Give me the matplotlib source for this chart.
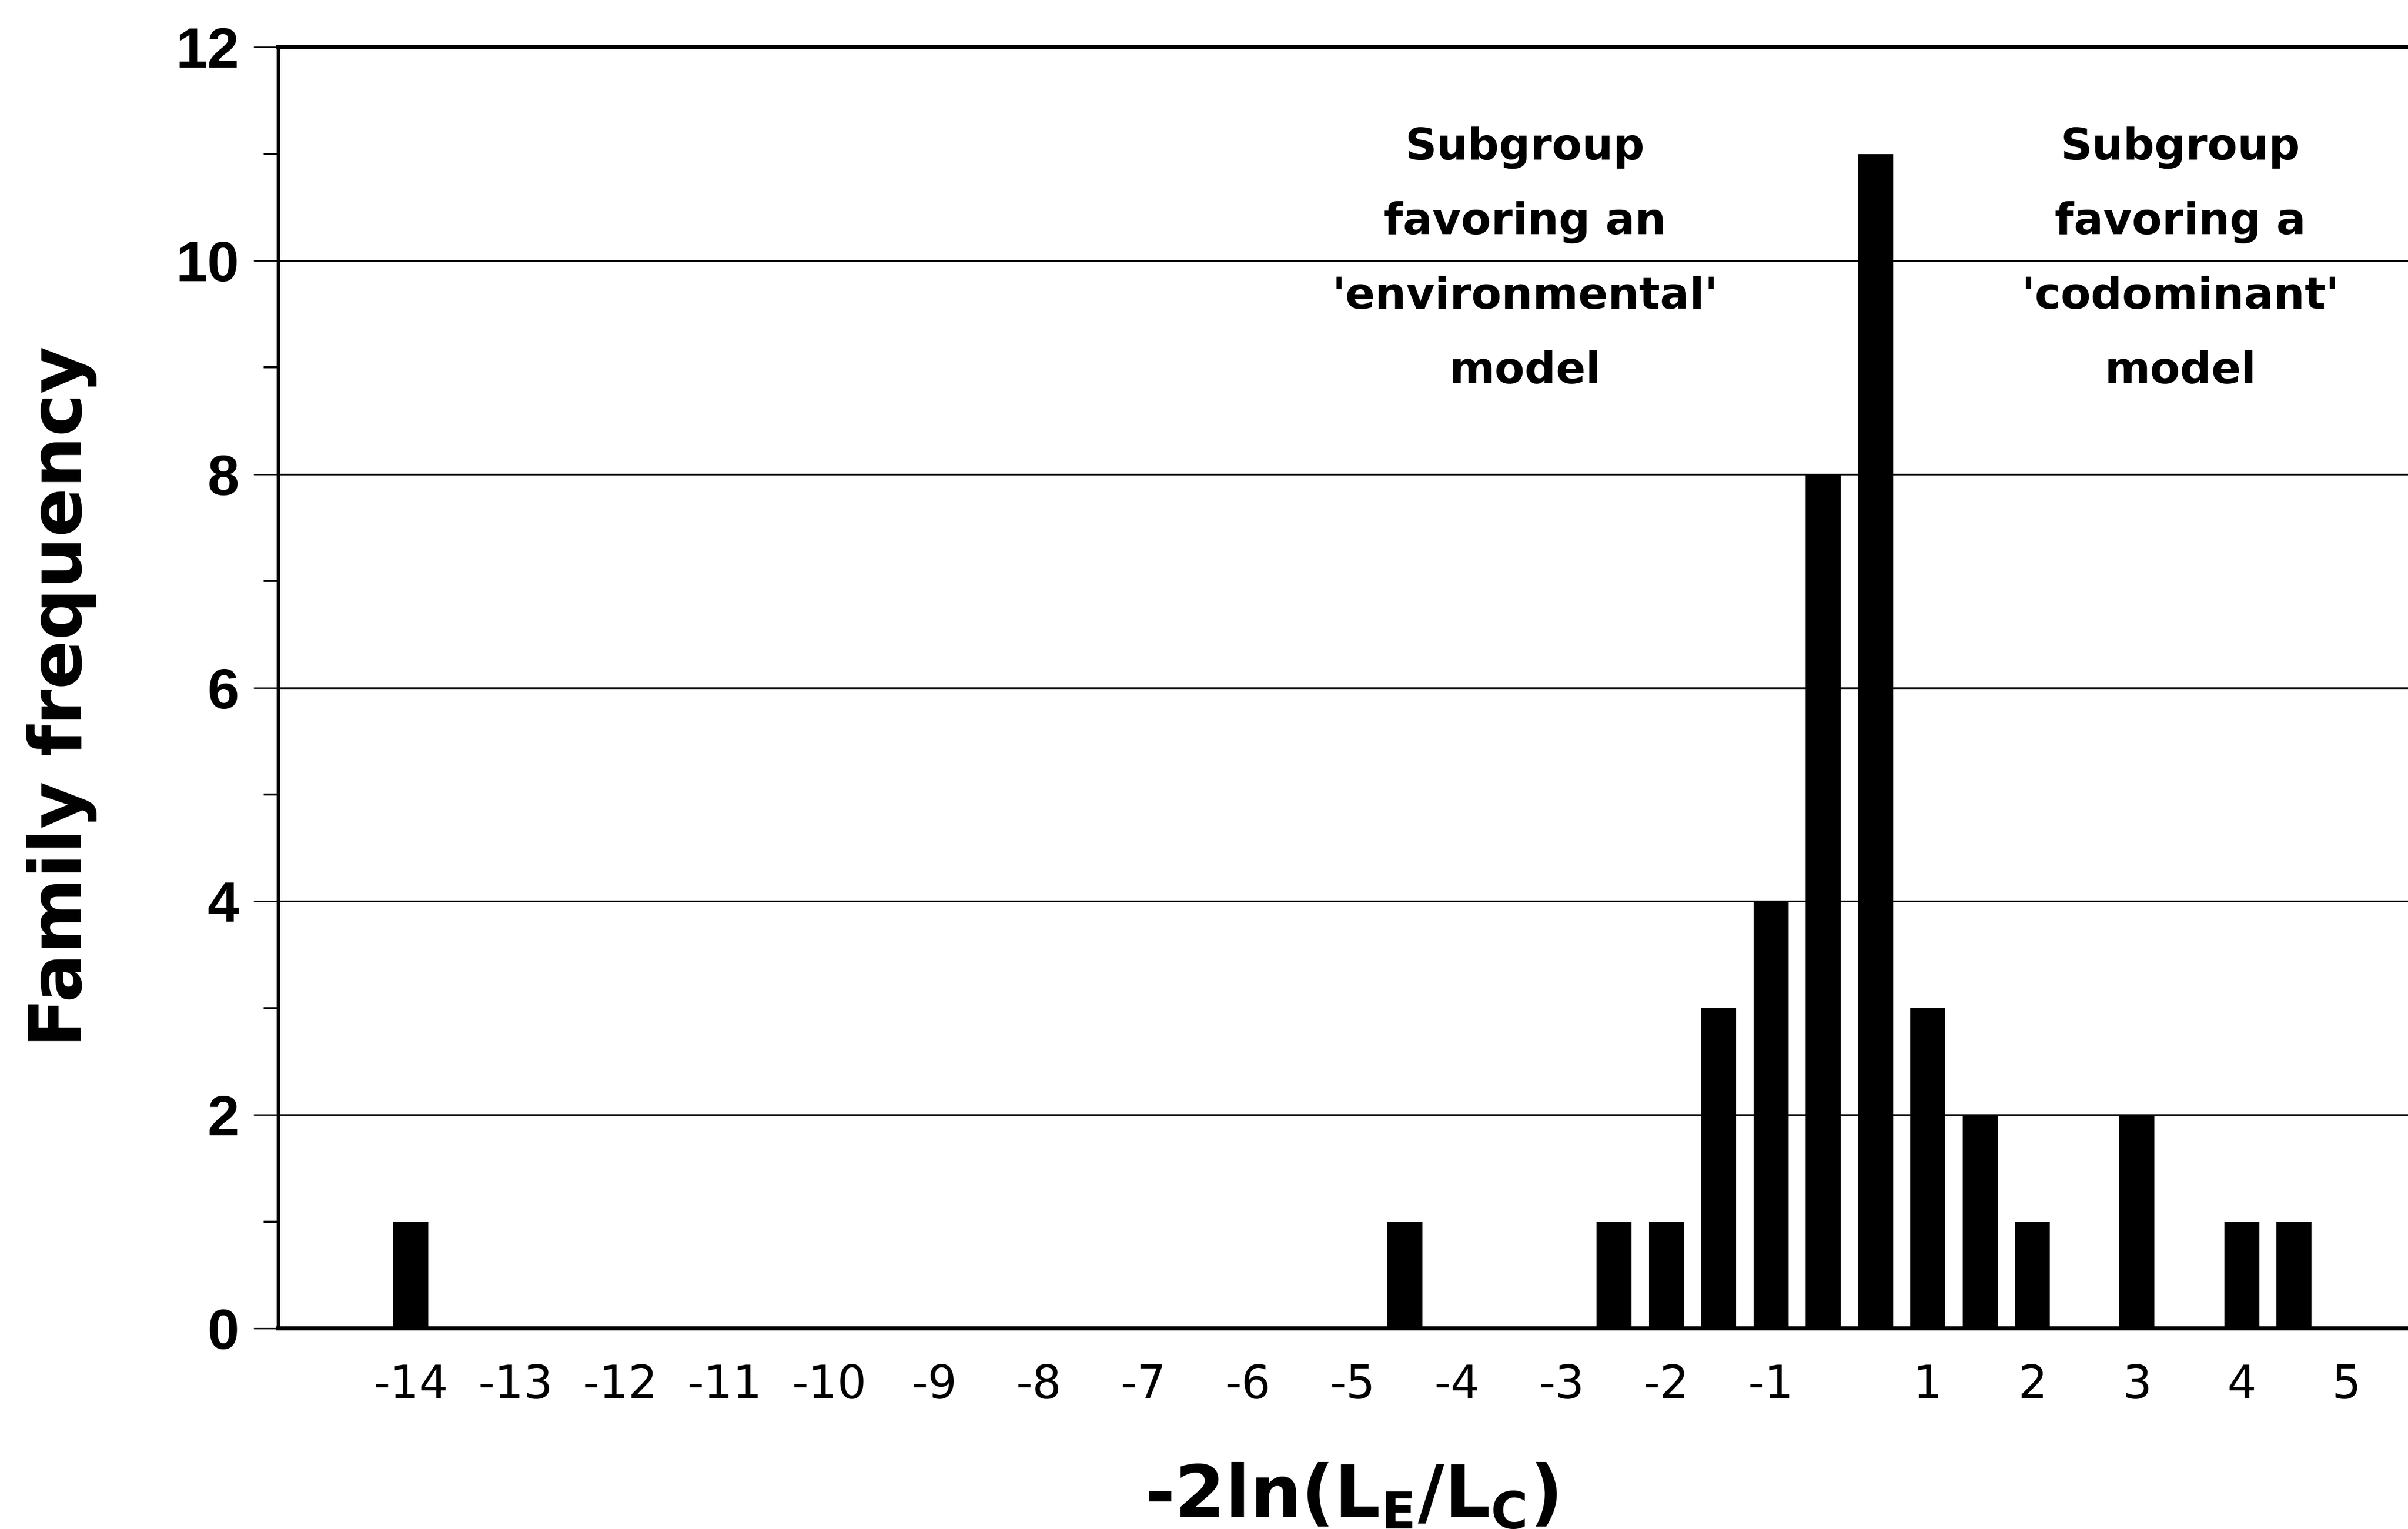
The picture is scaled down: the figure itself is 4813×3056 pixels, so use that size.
import matplotlib
matplotlib.use("Agg")
import matplotlib.pyplot as plt
from matplotlib.ticker import MultipleLocator

# ---- data ----
bin_centers = [-14, -4.5, -2.5, -2, -1.5, -1, -0.5, 0, 0.5, 1, 1.5, 2.5, 3.5, 4]
frequencies = [1, 1, 1, 1, 3, 4, 8, 11, 3, 2, 1, 2, 1, 1]
xtick_positions = [-14, -13, -12, -11, -10, -9, -8, -7, -6, -5, -4, -3, -2, -1,
                   0.5, 1.5, 2.5, 3.5, 4.5]
xtick_labels = ["-14", "-13", "-12", "-11", "-10", "-9", "-8", "-7", "-6", "-5",
                "-4", "-3", "-2", "-1", "1", "2", "3", "4", "5"]
ytick_values = [0, 2, 4, 6, 8, 10, 12]
left_note = ["Subgroup", "favoring an", "'environmental'", "model"]
right_note = ["Subgroup", "favoring a", "'codominant'", "model"]

plt.rcParams['font.family'] = ['DejaVu Sans']
plt.rcParams['mathtext.fontset'] = 'dejavusans'

W, H = 4813, 3056
fig = plt.figure(figsize=(W / 100, H / 100), dpi=100)
fig.patch.set_facecolor('white')
ax = fig.add_axes([0.1155, 0.1312, 1 - 0.1155, 0.9692 - 0.1312])

ax.bar(bin_centers, frequencies, width=0.335, color='black', zorder=3)

ax.set_xlim(-15.27, 5.09)
ax.set_ylim(0, 12)

# horizontal grid lines
for yv in ytick_values[1:-1]:
    ax.axhline(yv, color='black', lw=2.4, zorder=1)

ax.spines['right'].set_visible(False)
ax.spines['left'].set_linewidth(5)
ax.spines['bottom'].set_linewidth(6)
ax.spines['top'].set_linewidth(5.5)

ax.set_yticks(ytick_values)
ax.set_yticklabels([str(v) for v in ytick_values],
                   fontfamily='Liberation Sans', fontweight='bold', fontsize=82)
ax.yaxis.set_minor_locator(MultipleLocator(1))
ax.tick_params(axis='y', which='major', direction='out', length=35, width=2, pad=21)
ax.tick_params(axis='y', which='minor', direction='out', length=21, width=3)

ax.set_xticks(xtick_positions)
ax.set_xticklabels(xtick_labels, fontsize=66)
ax.tick_params(axis='x', which='both', length=0, pad=50)

# annotations
step = 0.70
for i, line in enumerate(left_note):
    ax.text(-3.35, 10.95 - i * step, line, ha='center', va='baseline',
            fontsize=63, fontweight='bold', zorder=5)
for i, line in enumerate(right_note):
    ax.text(2.915, 10.95 - i * step, line, ha='center', va='baseline',
            fontsize=63, fontweight='bold', zorder=5)

fig.text(2701 / W, 1 - 3032 / H, r'-2ln(L$_{\mathbf{E}}$/L$_{\mathbf{C}}$)',
         ha='center', va='baseline', fontsize=104, fontweight='bold')
fig.text(163 / W, 1 - 1392 / H, 'Family frequency', rotation=90,
         rotation_mode='anchor', ha='center', va='baseline',
         fontsize=104, fontweight='bold')

fig.savefig('out.png', dpi=100, facecolor='white')
